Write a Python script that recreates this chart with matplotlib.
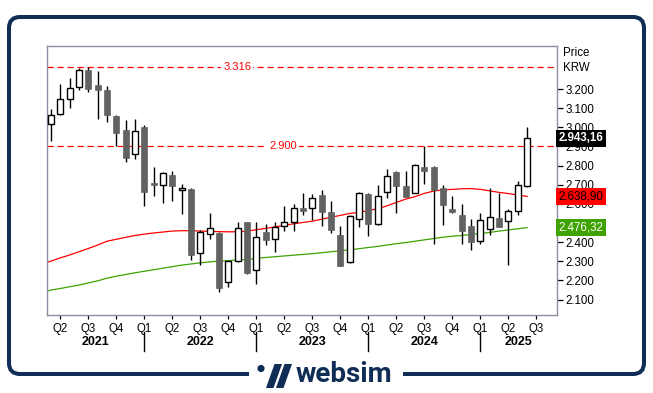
import matplotlib
matplotlib.use("Agg")
import matplotlib.pyplot as plt
import matplotlib.transforms as mtransforms
from matplotlib.patches import FancyBboxPatch, Polygon, Circle, Rectangle
import numpy as np
import pandas as pd

plt.rcParams['font.family'] = ['Liberation Sans', 'DejaVu Sans']

# ---------------- data (monthly candles, Mar 2021 .. Jun 2025) ----------------
months = pd.period_range('2021-03', '2025-06', freq='M')
opens = [3020, 3068, 3146, 3209, 3300, 3223, 3195, 3059, 2985, 2863,
         3003, 2709, 2701, 2750, 2670, 2676, 2345, 2445, 2446, 2193,
         2303, 2503, 2256, 2451, 2418, 2486, 2507, 2577, 2581, 2645,
         2556, 2440, 2298, 2523, 2650, 2497, 2664, 2769, 2696, 2659,
         2795, 2791, 2685, 2571, 2544, 2482, 2404, 2471, 2524, 2512,
         2561, 2696]
highs = [3095, 3226, 3256, 3312, 3316, 3294, 3214, 3064, 3038, 3043,
         3011, 2791, 2765, 2770, 2702, 2685, 2465, 2550, 2453, 2303,
         2503, 2505, 2503, 2493, 2503, 2588, 2598, 2657, 2650, 2671,
         2613, 2482, 2540, 2662, 2655, 2697, 2781, 2772, 2774, 2811,
         2900, 2796, 2697, 2640, 2598, 2519, 2554, 2681, 2657, 2575,
         2722, 3001]
lows = [2929, 3067, 3102, 3196, 3186, 3043, 3027, 2901, 2819, 2835,
        2589, 2640, 2604, 2615, 2545, 2305, 2282, 2418, 2138, 2165,
        2298, 2235, 2180, 2383, 2348, 2458, 2458, 2542, 2514, 2484,
        2447, 2273, 2290, 2479, 2432, 2490, 2633, 2552, 2634, 2655,
        2706, 2392, 2491, 2554, 2392, 2360, 2392, 2435, 2477, 2283,
        2542, 2686]
closes = [3064, 3146, 3204, 3300, 3200, 3196, 3065, 2971, 2840, 2980,
          2662, 2699, 2760, 2694, 2685, 2332, 2455, 2476, 2159, 2299,
          2476, 2238, 2428, 2409, 2481, 2503, 2580, 2563, 2633, 2557,
          2463, 2278, 2538, 2659, 2494, 2643, 2748, 2694, 2636, 2802,
          2772, 2671, 2594, 2557, 2458, 2400, 2517, 2533, 2479, 2561,
          2701, 2943.16]

# moving averages, one value per month starting Feb 2021
ma_months = pd.period_range('2021-02', '2025-06', freq='M')
ma_red = [2284, 2301, 2318, 2333, 2350, 2367, 2385, 2405, 2415, 2425, 2435,
          2442, 2448, 2453, 2458, 2460, 2460, 2458, 2456, 2455, 2454,
          2454, 2457, 2465, 2472, 2480, 2488, 2496, 2503, 2510, 2520,
          2530, 2540, 2550, 2556, 2565, 2575, 2590, 2608, 2625, 2638,
          2655, 2667, 2673, 2676, 2679, 2680, 2676, 2668, 2660, 2654,
          2646, 2638.90]
ma_green = [2136, 2150, 2158, 2167, 2176, 2187, 2198, 2212, 2222, 2231, 2240,
            2248, 2256, 2264, 2272, 2280, 2286, 2292, 2297, 2301, 2304,
            2307, 2310, 2315, 2320, 2324, 2328, 2332, 2336, 2340, 2345,
            2350, 2355, 2360, 2366, 2372, 2378, 2385, 2392, 2398, 2405,
            2412, 2419, 2426, 2431, 2435, 2440, 2445, 2451, 2458, 2464,
            2470, 2476.32]

levels = [3316, 2900]
y_ticks = list(range(2100, 3201, 100))
last_price = 2943.16

# ---------------- styling ----------------
NAVY = '#0f2d55'
GREY_SPINE = '#8e8ea0'
DARK = '#626262'
RED = '#ff0000'
GREEN = '#3ea300'

def fmt_int(v):
    return f"{v:,.0f}".replace(",", ".")

def fmt_dec(v):
    s = f"{v:,.2f}"
    return s.replace(",", "X").replace(".", ",").replace("X", ".")

W, H = 653, 393
fig = plt.figure(figsize=(W / 100, H / 100), dpi=100)
fig.patch.set_facecolor('white')

# background / frame axes in pixel coords
bg = fig.add_axes([0, 0, 1, 1], zorder=0)
bg.set_xlim(0, W)
bg.set_ylim(H, 0)
bg.axis('off')
frame = FancyBboxPatch((9, 17), 635, 357, boxstyle="round,pad=0,rounding_size=11",
                       linewidth=2.9, edgecolor=NAVY, facecolor='white')
bg.add_patch(frame)
bg.add_patch(Rectangle((249, 368), 154, 12, facecolor='white', edgecolor='none', zorder=3))
# logo icon
bg.add_patch(Circle((261, 368.5), 3.6, facecolor=NAVY, edgecolor='none', zorder=4))
bg.add_patch(Polygon([(266, 388), (273.5, 388), (282, 364), (274.5, 364)], closed=True,
                     facecolor=NAVY, edgecolor='none', zorder=4))
bg.add_patch(Polygon([(276, 388), (283.5, 388), (292, 364), (284.5, 364)], closed=True,
                     facecolor=NAVY, edgecolor='none', zorder=4))
bg.text(296, 375, 'websim', family=['Roboto', 'DejaVu Sans'], fontweight='bold',
        fontsize=20, color=NAVY, ha='left', va='center', zorder=4)

# main axes
ax_l, ax_r, ax_t, ax_b = 47, 557, 46, 314.5
ax = fig.add_axes([ax_l / W, 1 - ax_b / H, (ax_r - ax_l) / W, (ax_b - ax_t) / H], zorder=2)
ax.set_facecolor('white')

x = np.arange(len(months))
o = np.array(opens, float); c = np.array(closes, float)
h = np.array(highs, float); l = np.array(lows, float)
up = c >= o

# wicks
ax.vlines(x, l, h, color='black', linewidth=1.0, zorder=3)
# bodies
bw = 0.64
body_bottom = np.minimum(o, c)
body_height = np.maximum(np.abs(c - o), 3)
ax.bar(x[up], body_height[up], bottom=body_bottom[up], width=bw,
       facecolor='white', edgecolor='black', linewidth=1.0, zorder=4)
ax.bar(x[~up], body_height[~up], bottom=body_bottom[~up], width=bw,
       facecolor=DARK, edgecolor=DARK, linewidth=0.5, zorder=4)

# moving averages
xm = np.arange(len(ma_months)) - 1
ax.plot(xm, ma_red, color=RED, linewidth=0.9, zorder=2)
ax.plot(xm, ma_green, color=GREEN, linewidth=0.9, zorder=2)

# horizontal levels
label_xfrac = [0.373, 0.463]
for lv, xf in zip(levels, label_xfrac):
    ax.axhline(lv, color=RED, linewidth=0.9, linestyle=(0, (5, 3)), zorder=1)
    ax.text(xf, lv, fmt_int(lv), transform=ax.get_yaxis_transform(which='grid').inverted() if False else
            mtransforms.blended_transform_factory(ax.transAxes, ax.transData),
            color=RED, fontsize=8, ha='center', va='center', zorder=2,
            bbox=dict(facecolor='white', edgecolor='none', pad=1.5))

ax.set_xlim(-0.43, 54.2)
ax.set_ylim(2022, 3425)

for sp in ax.spines.values():
    sp.set_color(GREY_SPINE)
    sp.set_linewidth(1.0)

# y axis on right
ax.yaxis.tick_right()
ax.set_yticks(y_ticks)
ax.set_yticklabels([fmt_int(v) for v in y_ticks])
ax.tick_params(axis='y', which='both', length=4, width=0.9, color='black',
               labelsize=8.3, pad=2, labelcolor='black', left=False)

# quarter ticks on x axis
all_months = pd.period_range('2021-02', '2025-09', freq='M')
q_pos, q_lab = [], []
for m in all_months:
    pos = (m - months[0]).n
    if m.month in (1, 4, 7, 10) and -0.43 <= pos <= 54.2:
        q_pos.append(pos)
        q_lab.append(f"Q{(m.month - 1) // 3 + 1}")
ax.set_xticks(q_pos)
ax.set_xticklabels(q_lab)
ax.tick_params(axis='x', length=3, width=0.9, color='black', labelsize=8.3, pad=3)

# year labels and dividers
xl0, xl1 = ax.get_xlim()
bt = mtransforms.blended_transform_factory(ax.transData, ax.transAxes)
years = sorted(set(m.year for m in months))
for yr in years:
    start = (pd.Period(f'{yr}-01', 'M') - months[0]).n
    end = (pd.Period(f'{yr + 1}-01', 'M') - months[0]).n
    a, b = max(start, xl0), min(end, xl1)
    ax.text((a + b) / 2, -0.102, str(yr), transform=bt, ha='center', va='center',
            fontsize=9, fontweight='bold', clip_on=False)
    if start > xl0:
        ax.plot([start, start], [-0.065, -0.135], transform=bt, color='black',
                linewidth=1.0, clip_on=False)

# axis title
ax.text(1.012, 0.975, 'Price', transform=ax.transAxes, fontsize=8.3, ha='left', va='center')
ax.text(1.012, 0.918, 'KRW', transform=ax.transAxes, fontsize=8.3, ha='left', va='center')

# price tags at right
yt = mtransforms.blended_transform_factory(ax.transAxes, ax.transData)
tags = [(last_price, 'black', 'white', 'bold'),
        (ma_red[-1], RED, 'black', 'normal'),
        (ma_green[-1], GREEN, 'white', 'normal')]
for val, bgc, fgc, wt in tags:
    ax.text(1.003, val, fmt_dec(val), transform=yt, ha='left', va='center',
            fontsize=8.3, color=fgc, fontweight=wt, zorder=10, clip_on=False,
            bbox=dict(boxstyle='square,pad=0.22', facecolor=bgc, edgecolor='none'))

fig.savefig('out.png', dpi=100)
